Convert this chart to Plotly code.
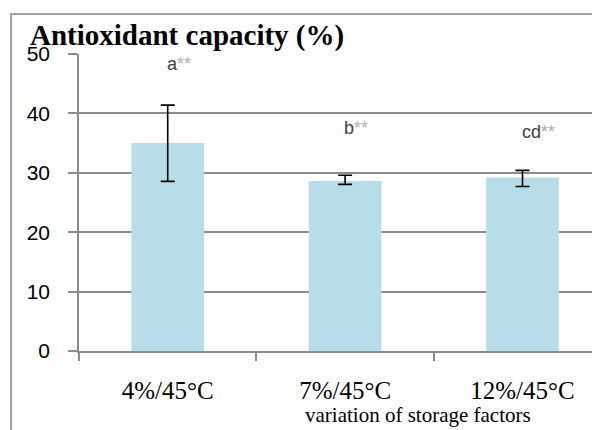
import plotly.graph_objects as go

categories = ["4%/45°C", "7%/45°C", "12%/45°C"]
values = [35.0, 28.6, 29.2]
err_plus = [6.4, 1.0, 1.2]
err_minus = [6.45, 0.55, 1.5]
sig_letters = ["a", "b", "cd"]
sig_stars = ["**", "**", "**"]
sig_y = [48.3, 37.5, 36.9]
y_ticks = [0, 10, 20, 30, 40, 50]

# page body has an 8px offset; compensate so the screen positions match
OFF = 8
W, H = 600, 430
L, T = 79 - OFF, 54 - OFF
B = H - (351 - OFF)
plot_w = W - L
plot_h = H - T - B
cat_px = 177.4

fig = go.Figure()
fig.add_trace(go.Bar(
    x=categories, y=values, width=0.41,
    marker=dict(color="#B7DEE8", line=dict(width=0)),
    error_y=dict(type="data", symmetric=False, array=err_plus, arrayminus=err_minus,
                 color="black", thickness=1.6, width=7),
))

for c, l, s, yv in zip(categories, sig_letters, sig_stars, sig_y):
    fig.add_annotation(x=c, y=yv, xref="x", yref="y", xanchor="left", yanchor="middle",
                       xshift=-3, showarrow=False,
                       text=f"{l}<span style='color:#b0b0b0'>{s}</span>",
                       font=dict(family="Liberation Sans", size=18, color="#404040"))

fig.add_annotation(xref="paper", yref="paper", x=(418 - 79) / plot_w, y=0, yanchor="middle",
                   xanchor="center", yshift=-(415 - 351), showarrow=False,
                   text="variation of storage factors",
                   font=dict(family="Liberation Serif", size=21, color="black"))

# outer frame (chart area border)
fig.add_shape(type="rect", xref="paper", yref="paper",
              x0=(11 - 79) / plot_w, x1=1.2, y0=-0.5, y1=(351 - 14) / plot_h,
              line=dict(color="#a0a0a0", width=2), layer="below")

fig.update_layout(
    width=W, height=H,
    margin=dict(l=L, r=0, t=T, b=B, pad=0),
    paper_bgcolor="white", plot_bgcolor="white",
    showlegend=False,
    title=dict(text="<b>Antioxidant capacity (%)</b>", x=(30 - OFF) / W, xanchor="left",
               y=1 - (35 - OFF) / H, yanchor="middle",
               font=dict(family="Liberation Serif", size=29, color="black")),
    xaxis=dict(type="category", range=[-0.5, -0.5 + plot_w / cat_px],
               showline=True, linecolor="#8c8c8c", linewidth=1.5,
               ticks="outside", ticklen=8, tickcolor="#8c8c8c", tickwidth=1.5,
               tickson="boundaries", showgrid=False,
               tickfont=dict(family="Liberation Serif", size=25, color="black"),
               ticklabelstandoff=16),
    yaxis=dict(range=[0, 50], tickvals=y_ticks,
               showline=True, linecolor="#8c8c8c", linewidth=1.5,
               ticks="outside", ticklen=9, tickcolor="#8c8c8c", tickwidth=1.5,
               showgrid=True, gridcolor="#8c8c8c", gridwidth=1.5, zeroline=False,
               tickfont=dict(family="Liberation Sans", size=21, color="black"),
               ticklabelstandoff=14),
)

fig.write_html("out.html")
